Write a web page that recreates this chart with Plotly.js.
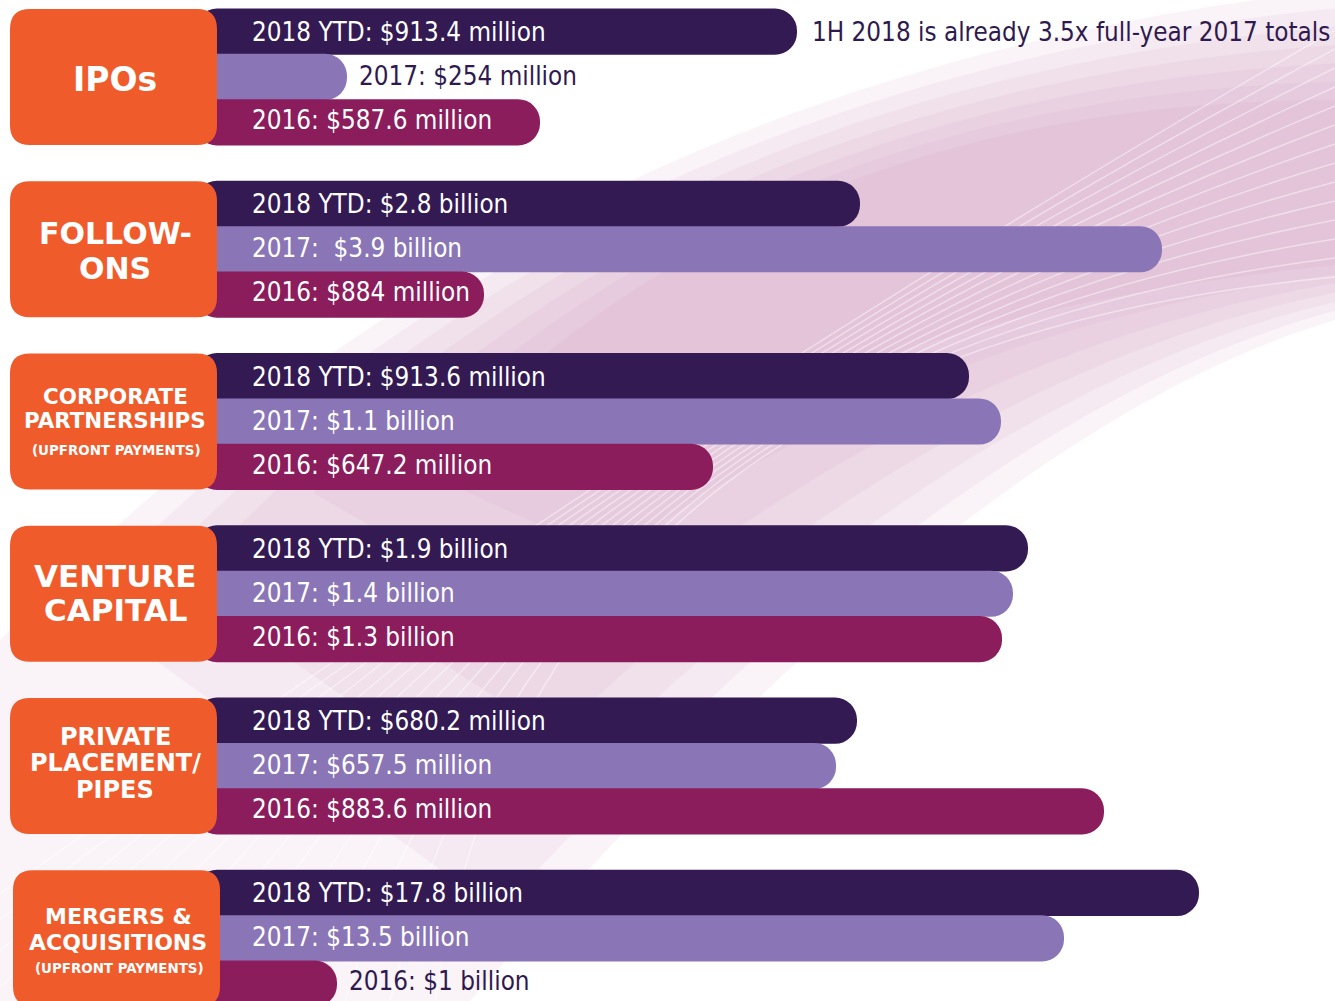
<!DOCTYPE html>
<html><head><meta charset="utf-8">
<script src="https://cdn.plot.ly/plotly-3.0.1.min.js"></script>
<style>html,body{margin:0;padding:0;background:#fff;overflow:hidden}#chart{width:1335px;height:1001px}</style>
</head><body><div id="chart"></div>
<script>
// ---------------- DATA ----------------
const categoryLines = [['IPOs'], ['FOLLOW-', 'ONS'], ['CORPORATE', 'PARTNERSHIPS'], ['VENTURE', 'CAPITAL'], ['PRIVATE', 'PLACEMENT/', 'PIPES'], ['MERGERS &', 'ACQUISITIONS']];
const categoryNotes = ['', '', '(UPFRONT PAYMENTS)', '', '', '(UPFRONT PAYMENTS)'];
const seriesNames = ['2018 YTD', '2017', '2016'];
const labels2018 = ['2018 YTD: $913.4 million', '2018 YTD: $2.8 billion', '2018 YTD: $913.6 million', '2018 YTD: $1.9 billion', '2018 YTD: $680.2 million', '2018 YTD: $17.8 billion'];
const labels2017 = ['2017: $254 million', '2017:\u00a0 $3.9 billion', '2017: $1.1 billion', '2017: $1.4 billion', '2017: $657.5 million', '2017: $13.5 billion'];
const labels2016 = ['2016: $587.6 million', '2016: $884 million', '2016: $647.2 million', '2016: $1.3 billion', '2016: $883.6 million', '2016: $1 billion'];
// displayed bar lengths (infographic units)
const barLength2018 = [602, 665, 774, 833, 662, 1004];
const barLength2017 = [152, 967, 806, 818, 641, 869];
const barLength2016 = [345, 289, 518, 807, 909, 142];
const calloutText = '1H 2018 is already 3.5x full-year 2017 totals';

// ---------------- LAYOUT CONSTANTS ----------------
const W = 1335, H = 1001;
const BASE = 195, LABEL_X = 250;
const ROW_PX = 45.33, GROUP_STEP = 3.8, Y_TOP = -0.6985;
const Y_BOTTOM = Y_TOP + H / ROW_PX;
const colors = ['#331a53', '#8a76b6', '#8b1d5d'];
const ORANGE = '#f05b2b';
const DARK_TEXT = '#2f1a4f';
const barFont = 'DejaVu Sans Condensed, DejaVu Sans, sans-serif';
const boldFont = 'DejaVu Sans, Verdana, sans-serif';
const BAR_FONT_SIZE = 25.8;
const rowTextShift = [0.01, -0.02, -0.05];
const catFontSize = [33, 30, 21.4, 31, 24, 22];
const catLineOffsets = [[71], [52, 87], [43, 67], [50, 84], [39, 65, 92], [46, 72]];
const catNoteOffset = [0, 0, 97, 0, 0, 98];
const boxShiftX = [0, 0, 0, 0, 0, 3];

const yPos = (g, r) => g * GROUP_STEP + r;
const yToPx = v => (v - Y_TOP) * ROW_PX;
const PX = x => x / W;
const PY = y => 1 - y / H;

const lengths = [barLength2018, barLength2017, barLength2016];
const labels = [labels2018, labels2017, labels2016];

const traces = lengths.map((len, r) => ({
  type: 'bar', orientation: 'h', name: seriesNames[r],
  x: len, y: len.map((_, g) => yPos(g, r)),
  base: BASE, width: 1.02,
  marker: { color: colors[r], cornerradius: 22, line: { width: 0 } },
  hoverinfo: 'skip', showlegend: false
}));

const annotations = [];
lengths.forEach((len, r) => {
  len.forEach((v, g) => {
    const outside = v < 250;
    annotations.push({
      xref: 'x', yref: 'y', x: outside ? BASE + v + 10 : LABEL_X, y: yPos(g, r) + rowTextShift[r],
      xanchor: 'left', yanchor: 'middle', showarrow: false,
      text: labels[r][g],
      font: { family: barFont, size: BAR_FONT_SIZE, color: outside ? DARK_TEXT : '#ffffff' }
    });
  });
});
// callout next to the IPO 2018 bar
annotations.push({
  xref: 'x', yref: 'y', x: BASE + barLength2018[0] + 13, y: yPos(0, 0) + rowTextShift[0],
  xanchor: 'left', yanchor: 'middle', showarrow: false, text: calloutText,
  font: { family: barFont, size: BAR_FONT_SIZE, color: DARK_TEXT }
});

const shapes = [];
function rr(x0, y0, x1, y1, r) {
  const p = (x, y) => PX(x).toFixed(5) + ',' + PY(y).toFixed(5);
  return 'M' + p(x0 + r, y0) + ' L' + p(x1 - r, y0) + ' Q' + p(x1, y0) + ' ' + p(x1, y0 + r) +
    ' L' + p(x1, y1 - r) + ' Q' + p(x1, y1) + ' ' + p(x1 - r, y1) +
    ' L' + p(x0 + r, y1) + ' Q' + p(x0, y1) + ' ' + p(x0, y1 - r) +
    ' L' + p(x0, y0 + r) + ' Q' + p(x0, y0) + ' ' + p(x0 + r, y0) + ' Z';
}
function pathPx(cmds) {
  return cmds.map(c => c[0] + c.slice(1).map(pt => PX(pt[0]).toFixed(5) + ',' + PY(pt[1]).toFixed(5)).join(' ')).join(' ');
}
const lerp = (a, b, t) => [a[0] + (b[0] - a[0]) * t, a[1] + (b[1] - a[1]) * t];

// ---- decorative background swirl (layered soft ribbon) ----
const outerU = [[0, 640], [300, 330], [700, 60], [1335, -10]];
const innerU = [[470, 420], [680, 220], [960, 100], [1335, 100]];
const outerL = [[1335, 320], [1100, 390], [820, 600], [470, 1001]];
const innerL = [[1335, 265], [1100, 290], [850, 340], [640, 470]];
const NB = 7;
for (let k = 0; k < NB; k++) {
  const t = k / (NB - 1);
  const u = outerU.map((p, i) => lerp(p, innerU[i], t));
  const l = outerL.map((p, i) => lerp(p, innerL[i], t));
  const cmds = [['M', u[0]], ['C', u[1], u[2], u[3]], ['L', l[0]], ['C', l[1], l[2], l[3]]];
  if (k === 0) cmds.push(['L', [0, 1001]]);
  shapes.push({ type: 'path', xref: 'paper', yref: 'paper', layer: 'below', line: { width: 0 },
    fillcolor: 'rgba(205,150,185,0.1)', path: pathPx(cmds) + ' Z' });
}
// thin light streaks
for (let i = 0; i < 14; i++) {
  shapes.push({ type: 'path', xref: 'paper', yref: 'paper', layer: 'below',
    line: { color: 'rgba(255,255,255,0.45)', width: 1.5 },
    path: pathPx([['M', [-150 + i * 45, 1001]], ['Q', [640 - i * 8, 430 - i * 6], [1335, 30 + i * 19]]]) });
}

categoryLines.forEach((lines, g) => {
  const top = yToPx(yPos(g, 0) - 0.5), bottom = yToPx(yPos(g, 2) + 0.5);
  const dx = boxShiftX[g];
  shapes.push({ type: 'path', xref: 'paper', yref: 'paper', layer: 'above', line: { width: 0 },
    fillcolor: ORANGE, path: rr(10 + dx, top, 217 + dx, bottom, 20) });
  lines.forEach((t, k) => {
    annotations.push({ xref: 'paper', yref: 'paper', x: PX(115 + dx), y: PY(top + catLineOffsets[g][k]),
      xanchor: 'center', yanchor: 'middle', showarrow: false, text: '<b>' + t + '</b>',
      font: { family: boldFont, size: catFontSize[g], color: '#ffffff' } });
  });
  if (categoryNotes[g]) {
    annotations.push({ xref: 'paper', yref: 'paper', x: PX(116 + dx), y: PY(top + catNoteOffset[g]),
      xanchor: 'center', yanchor: 'middle', showarrow: false, text: '<b>' + categoryNotes[g] + '</b>',
      font: { family: boldFont, size: 13.4, color: '#ffffff' } });
  }
});

const layout = {
  width: W, height: H, margin: { l: 0, r: 0, t: 0, b: 0, pad: 0 },
  paper_bgcolor: '#ffffff', plot_bgcolor: 'rgba(0,0,0,0)',
  barmode: 'overlay', showlegend: false,
  xaxis: { range: [0, W], visible: false, fixedrange: true },
  yaxis: { range: [Y_BOTTOM, Y_TOP], visible: false, fixedrange: true },
  shapes: shapes, annotations: annotations
};
Plotly.newPlot('chart', traces, layout, { staticPlot: true, displayModeBar: false });
</script></body></html>
